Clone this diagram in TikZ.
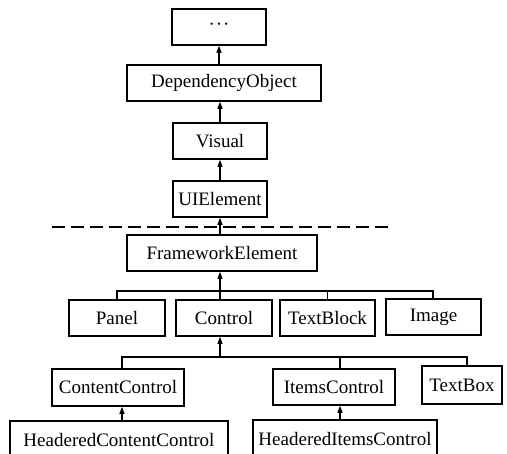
\documentclass[tikz,border=0pt]{standalone}
\usepackage{fontspec}
\setmainfont{Liberation Serif}
\usetikzlibrary{arrows.meta}
\begin{document}
\begin{tikzpicture}[x=1pt,y=-1pt,
  cls/.style={draw,line width=1.6pt,inner sep=0pt,minimum height=36pt,
    font=\fontsize{19}{22}\selectfont},
  link/.style={line width=1.1pt},
  inh/.style={link,-{Triangle[length=7pt,width=5pt]}}]
\useasboundingbox (0,0) rectangle (507,454);
\node[cls,minimum width=94pt] (dots) at (219,27) {\textperiodcentered\kern1pt\textperiodcentered\kern1pt\textperiodcentered};
\node[cls,minimum width=194pt] (dobj) at (224,83) {DependencyObject};
\node[cls,minimum width=94pt] (vis) at (220,141) {Visual};
\node[cls,minimum width=94pt] (uie) at (220,199) {UIElement};
\node[cls,minimum width=190pt] (fe) at (222,253) {FrameworkElement};
\node[cls,minimum width=96pt] (panel) at (117,318) {Panel};
\node[cls,minimum width=96pt] (ctrl) at (224,318) {Control};
\node[cls,minimum width=95pt] (tblock) at (327.5,318) {TextBlock};
\node[cls,minimum width=95pt] (img) at (433.5,317) {Image};
\node[cls,minimum width=132pt,minimum height=37pt] (cc) at (118,387.5) {ContentControl};
\node[cls,minimum width=122pt] (ic) at (334,387) {ItemsControl};
\node[cls,minimum width=80pt,minimum height=38pt] (tbox) at (462,385) {TextBox};
\node[cls,minimum width=218pt,minimum height=38pt] (hcc) at (119,440) {HeaderedContentControl};
\node[cls,minimum width=184pt,minimum height=38pt] (hic) at (345,439) {HeaderedItemsControl};
% dashed separator
\coordinate (dl) at (52,227);
\coordinate (dr) at (390,227);
\draw[line width=2pt,dash pattern=on 13pt off 6pt] (dl) -- (dr);
% spine
\draw[inh] (dobj.north -| dots.south) -- (dots.south);
\draw[inh] (vis.north) -- (vis.north |- dobj.south);
\draw[inh] (uie.north) -- (vis.south);
\draw[inh] (fe.north -| uie.south) -- (uie.south);
% first level bus
\coordinate (b1) at (220,291);
\coordinate (b1c) at (220,300);
\draw[link] (117,300) |- (433,291) -- (433,299);
\draw[link] (327.5,300) -- (327.5,291);
\draw[inh] (b1c) -- (b1c |- fe.south);
% second level bus
\coordinate (b2) at (220,357);
\draw[link] (122,369) |- (467,357) -- (467,366);
\draw[link] (340,369) -- (340,357);
\draw[inh] (b2) -- (b2 |- ctrl.south);
% third level
\coordinate (h1) at (122,421);
\coordinate (h2) at (340,420);
\draw[inh] (h1) -- (h1 |- cc.south);
\draw[inh] (h2) -- (h2 |- ic.south);
\end{tikzpicture}
\end{document}
